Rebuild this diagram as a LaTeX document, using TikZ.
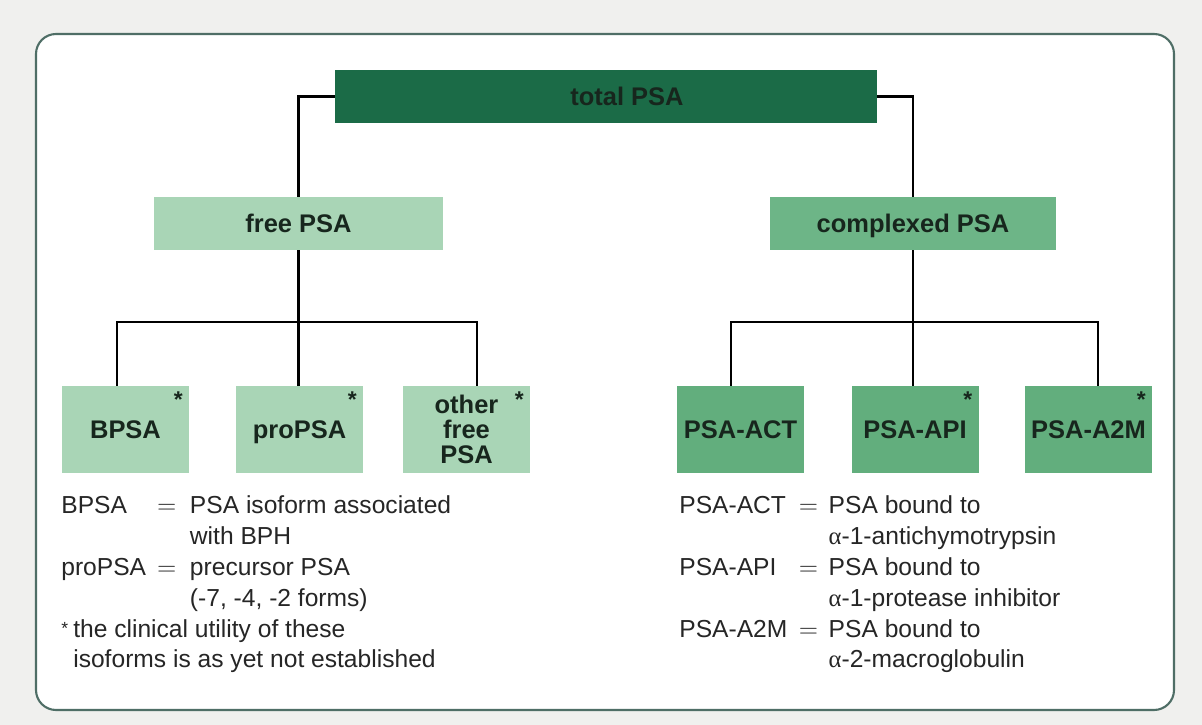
\documentclass[tikz,border=0pt]{standalone}
\usepackage{fontspec}
\setmainfont{Liberation Sans}
\newfontfamily\greekserif{Liberation Serif}
\definecolor{psadark}{HTML}{1B6B47}
\definecolor{psalight}{HTML}{A9D5B6}
\definecolor{psamid}{HTML}{62AE7D}
\definecolor{psacomp}{HTML}{6DB587}
\definecolor{psatext}{HTML}{17261D}
\definecolor{frameline}{HTML}{4F6E66}
\definecolor{pagebg}{HTML}{F0F0EE}
\newcommand{\alphaup}{{\greekserif α}}

\begin{document}
\begin{tikzpicture}[
    box/.style={fill=#1, text=psatext, inner sep=0pt, align=center, text depth=0pt,
      font=\fontsize{14.5}{14.2}\selectfont\bfseries},
    wide/.style={minimum width=5.78cm, minimum height=1.06cm},
    small/.style={minimum width=2.54cm, minimum height=1.74cm},
    starred/.style={label={[anchor=center, xshift=-0.22cm, yshift=-0.27cm,
      inner sep=0pt, text=psatext, font=\fontsize{13}{13}\selectfont\bfseries]north east:*}},
    link/.style={line width=1.4pt, black},
    legend/.style={anchor=base west, inner sep=0pt, text=black!85,
      font=\fontsize{14}{17.5}\selectfont}
  ]
      \fill[pagebg] (0,0) rectangle (24.04,-14.5);
      \draw[frameline, line width=1.2pt, fill=white, rounded corners=0.4cm] (0.72,-0.68) rectangle (23.48,-14.2);

      \node[box=psadark, minimum width=10.84cm, minimum height=1.06cm] (total) at (12.12,-1.93) {\hspace*{0.84cm}total PSA};
      \node[box=psalight, wide] (free) at (5.97,-4.47) {free PSA};
      \node[box=psacomp, wide, minimum width=5.72cm] (cplx) at (18.26,-4.47) {complexed PSA};

      \node[box=psalight, small, starred] (bpsa) at (2.51,-8.59) {BPSA};
      \node[box=psalight, small, starred] (propsa) at (5.99,-8.59) {proPSA};
      \node[box=psalight, small, starred] (other) at (9.33,-8.59) {other\\free\\PSA};
      \node[box=psamid, small] (act) at (14.81,-8.59) {PSA-ACT};
      \node[box=psamid, small, starred] (api) at (18.30,-8.59) {PSA-API};
      \node[box=psamid, small, starred] (a2m) at (21.77,-8.59) {PSA-A2M};

      \coordinate (fl) at (2.34,-6.44);
      \coordinate (fr) at (9.54,-6.44);
      \coordinate (cl) at (14.62,-6.44);
      \coordinate (cr) at (21.96,-6.44);

      \draw[link] (total.west) -| (free.north);
      \draw[link] (total.east) -| (cplx.north);
      \draw[link] (free.south) -- (free.south |- propsa.north);
      \draw[link] (fl |- bpsa.north) -- (fl) -- (fr) -- (fr |- other.north);
      \draw[link] (cplx.south) -- (cplx.south |- api.north);
      \draw[link] (cl |- act.north) -- (cl) -- (cr) -- (cr |- a2m.north);

      \node[legend] (leftkey) at (1.22,-10.28) {\begin{tabular}[t]{@{}p{54.5pt}@{}p{18.7pt}@{}l@{}}
        BPSA & $=$ & PSA isoform associated\\
             &     & with BPH\\
        proPSA & $=$ & precursor PSA\\
             &     & (-7, -4, -2 forms)\\
        \multicolumn{3}{@{}l@{}}{\makebox[6.8pt][l]{\raisebox{1.5pt}{\fontsize{10}{10}\selectfont *}}the clinical utility of these}\\
        \multicolumn{3}{@{}l@{}}{\hspace*{6.8pt}isoforms is as yet not established}
      \end{tabular}};
      \node[legend] (rightkey) at (13.58,-10.28) {\begin{tabular}[t]{@{}p{68pt}@{}p{17pt}@{}l@{}}
        PSA-ACT & $=$ & PSA bound to\\
                &     & \alphaup-1-antichymotrypsin\\
        PSA-API & $=$ & PSA bound to\\
                &     & \alphaup-1-protease inhibitor\\
        PSA-A2M & $=$ & PSA bound to\\
                &     & \alphaup-2-macroglobulin
      \end{tabular}};
\end{tikzpicture}
\end{document}
